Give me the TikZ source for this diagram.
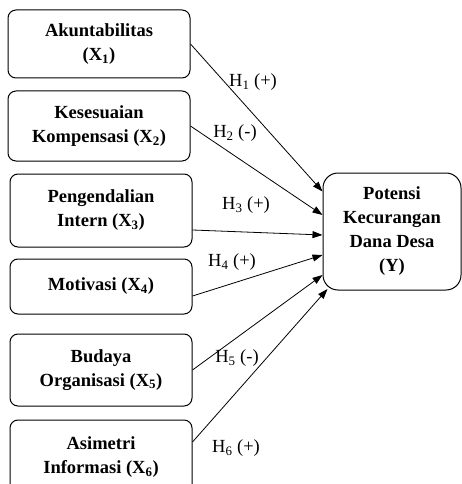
\documentclass[tikz,border=0pt]{standalone}
\usepackage{fontspec}
\setmainfont{Liberation Serif}
\usetikzlibrary{arrows.meta,positioning}

\begin{document}
\begin{tikzpicture}[
  x=1pt, y=-1pt,
  font=\fontsize{18.5}{24}\selectfont,
  v/.style={draw, line width=1pt, rounded corners=8pt, minimum width=182pt,
    align=center, inner sep=0pt, font=\fontsize{18.5}{24}\selectfont\bfseries},
  hyp/.style={inner sep=0pt},
  d/.style={-{Triangle[length=10pt,width=7pt]}, line width=0.8pt}
]
\useasboundingbox (0,0) rectangle (462,484);
\node[v, minimum height=68pt] (x1) at (99,44) {Akuntabilitas\\(X\textsubscript{1})};
\node[v, minimum height=70pt, below=12pt of x1] (x2) {Kesesuaian\\Kompensasi (X\textsubscript{2})};
\node[v, minimum height=73pt, below=12pt of x2, xshift=2pt] (x3) {Pengendalian\\Intern (X\textsubscript{3})};
\node[v, minimum height=55pt, below=11pt of x3] (x4) {Motivasi (X\textsubscript{4})};
\node[v, minimum height=72pt, below=19pt of x4] (x5) {Budaya\\Organisasi (X\textsubscript{5})};
\node[v, minimum height=74pt, below=13pt of x5] (x6) {Asimetri\\Informasi (X\textsubscript{6})};
\node[v, minimum width=138pt, minimum height=117pt, rounded corners=15pt] (y) at (392,231.5)
  {Potensi\\Kecurangan\\Dana Desa\\(Y)};
% hipotesis
\draw[d] (x1.east) -- ([yshift=40pt]y.west);
\draw[d] (x2.east) -- ([yshift=16.5pt]y.west);
\draw[d] ([yshift=-19.5pt]x3.east) -- ([yshift=-3.5pt]y.west);
\draw[d] ([yshift=-9.5pt]x4.east) -- ([yshift=-23.5pt]y.west);
\draw[d] (x5.east) -- ([yshift=-43.5pt]y.west);
\draw[d] ([yshift=15pt]x6.east) -- ([xshift=5pt,yshift=-57.5pt]y.west);
\node[hyp] (h1) at (253,82) {H\textsubscript{1} (+)};
\node[hyp] (h2) at (235,133) {H\textsubscript{2} (-)};
\node[hyp] (h3) at (246,205) {H\textsubscript{3} (+)};
\node[hyp] (h4) at (232,262) {H\textsubscript{4} (+)};
\node[hyp] (h5) at (237,358) {H\textsubscript{5} (-)};
\node[hyp] (h6) at (236,448) {H\textsubscript{6} (+)};
\end{tikzpicture}
\end{document}
